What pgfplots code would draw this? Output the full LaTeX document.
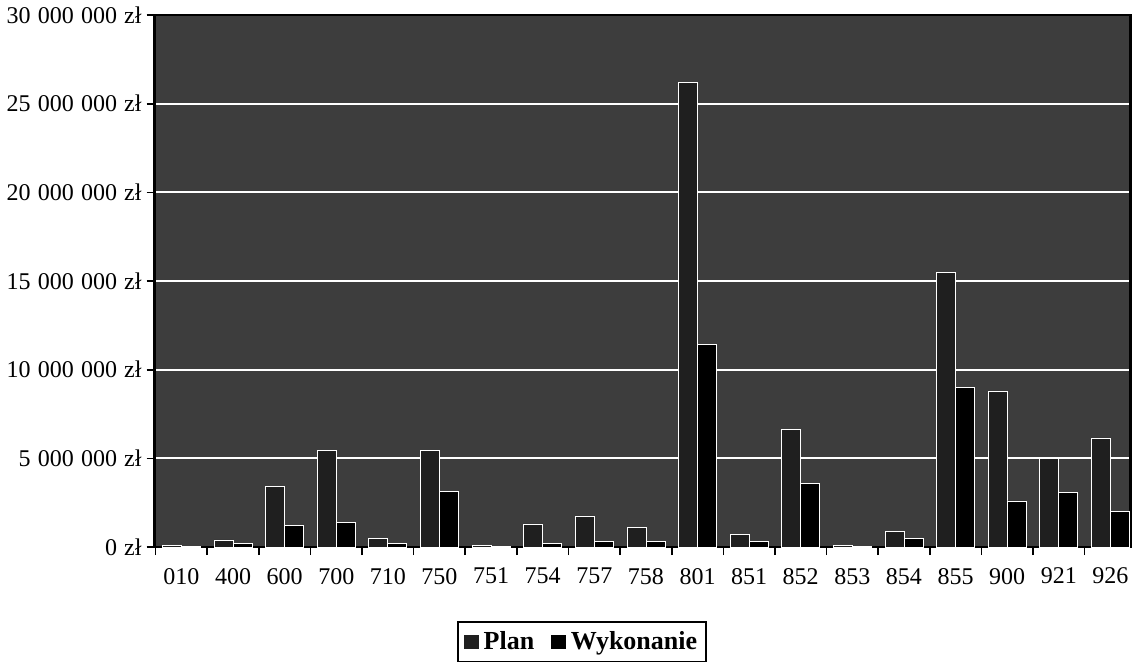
\documentclass[border=0pt]{standalone}
\usepackage{fontspec}
\setmainfont{Liberation Serif}
\usepackage{pgfplots}
\pgfplotsset{compat=1.18}
\newcommand\gap{\hspace{0.3em}}

\begin{document}
\begin{tikzpicture}
\begin{axis}[
  width=488pt, height=266pt, scale only axis,
  ybar=0pt, bar width=9.5pt,
  xmin=-0.52, xmax=18.39, ymin=0, ymax=30000000,
  xtick={0,...,18},
  xticklabels={010,400,600,700,710,750,751,754,757,758,801,851,852,853,854,855,900,921,926},
  major x tick style={draw=none},
  minor xtick={-0.5,0.5,...,17.5},
  minor tick length=4pt,
  xtick pos=lower, ytick pos=left,
  ytick={0,5000000,10000000,15000000,20000000,25000000,30000000},
  yticklabels={0\gap zł,5\gap 000\gap 000\gap zł,10\gap 000\gap 000\gap zł,15\gap 000\gap 000\gap zł,20\gap 000\gap 000\gap zł,25\gap 000\gap 000\gap zł,30\gap 000\gap 000\gap zł},
  scaled y ticks=false,
  tick align=outside, major tick length=4pt,
  tick style={black, line width=0.8pt},
  ymajorgrids, grid style={white, line width=1pt},
  axis background/.style={fill=black!76},
  axis line style={line width=1.2pt},
  tick label style={font=\fontsize{12}{14}\selectfont},
  yticklabel style={xshift=1pt},
  xticklabel style={yshift=-3pt},
  legend style={at={(0.438,-0.14)}, anchor=north, legend columns=2,
    draw=black, line width=0.9pt, font=\bfseries\fontsize{13}{15}\selectfont,
    inner sep=2.5pt,
    /tikz/every even column/.append style={column sep=6pt}},
  legend image code/.code={\fill[#1] (0cm,-0.14cm) rectangle (0.28cm,0.14cm);},
]
% Plan
\addplot[fill=black!88, draw=white, line width=0.4pt] coordinates {
  (0,100000) (1,400000) (2,3400000) (3,5450000) (4,500000) (5,5450000)
  (6,100000) (7,1300000) (8,1750000) (9,1100000) (10,26200000) (11,700000)
  (12,6650000) (13,100000) (14,900000) (15,15500000) (16,8800000) (17,5000000)
  (18,6150000)};
% Wykonanie
\addplot[fill=black, draw=white, line width=0.4pt] coordinates {
  (0,50000) (1,200000) (2,1200000) (3,1400000) (4,200000) (5,3150000)
  (6,50000) (7,200000) (8,300000) (9,300000) (10,11400000) (11,300000)
  (12,3600000) (13,50000) (14,500000) (15,9000000) (16,2600000) (17,3100000)
  (18,2000000)};
\legend{Plan,Wykonanie}
\end{axis}
\end{tikzpicture}
\end{document}
